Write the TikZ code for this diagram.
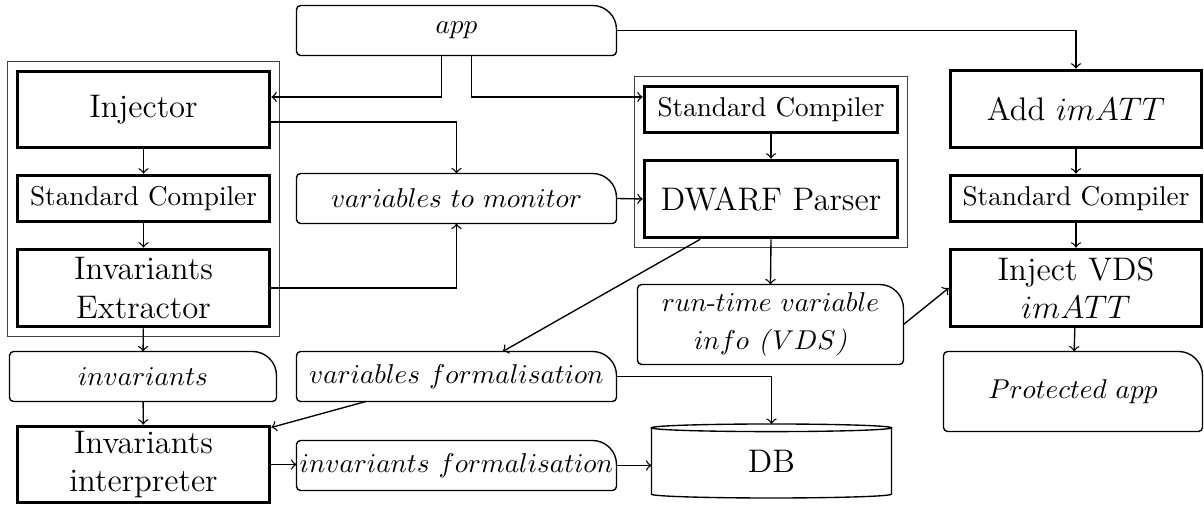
\documentclass[tikz,border=0pt]{standalone}
\usepackage{amsmath}
\usetikzlibrary{fit}
\def\pxu{0.3676pt}
\tikzset{
  bigbox/.style={draw, line width=1.3pt, align=center, inner sep=0pt, font=\large},
  smallbox/.style={draw, line width=1.3pt, align=center, inner sep=0pt},
  datab/.style={align=center, inner sep=0pt, outer sep=0pt},
  grp/.style={draw=black!75, line width=0.5pt, inner sep=3.1pt},
  conn/.style={->, line width=0.5pt},
  dshape/.style={line width=0.5pt}
}
\newcommand\datashape[1]{\draw[dshape] ([xshift=-8.8pt]#1.north east) arc[start angle=90,end angle=0,radius=8.8pt] -- ([yshift=1.5pt]#1.south east) arc[start angle=0,end angle=-90,radius=1.5pt] -- ([xshift=1.5pt]#1.south west) arc[start angle=270,end angle=180,radius=1.5pt] -- ([yshift=-1.5pt]#1.north west) arc[start angle=180,end angle=90,radius=1.5pt] -- cycle;}
\begin{document}
\begin{tikzpicture}[x=0.3676pt, y=-0.3676pt]
\useasboundingbox (0,0) rectangle (1204,505);
% left column
\node[bigbox, minimum width=252*\pxu, minimum height=76*\pxu] (inj) at (143.5,109.5) {Injector};
\node[smallbox, minimum width=252*\pxu, minimum height=46*\pxu] (sc1) at (143.5,198.5) {Standard Compiler};
\node[bigbox, minimum width=252*\pxu, minimum height=77*\pxu] (ie) at (143.5,288) {Invariants\\Extractor};
\node[grp, fit=(inj)(sc1)(ie)] (grpL) {};
\node[datab, minimum width=267*\pxu, minimum height=50*\pxu] (inv) at (143,376.5) {$invariants$};
\node[bigbox, minimum width=252*\pxu, minimum height=76*\pxu] (ii) at (143.5,464.5) {Invariants\\interpreter};
% second column (data)
\node[datab, minimum width=320*\pxu, minimum height=50*\pxu] (app) at (456.5,30.5) {$app$};
\node[datab, minimum width=320*\pxu, minimum height=50*\pxu] (vtm) at (456.5,198.5) {$variables\ to\ monitor$};
\node[datab, minimum width=320*\pxu, minimum height=50*\pxu] (vf) at (456.5,376.5) {$variables\ formalisation$};
\node[datab, minimum width=320*\pxu, minimum height=50*\pxu] (if) at (456.5,465.5) {$invariants\ formalisation$};
% middle column
\node[smallbox, minimum width=253*\pxu, minimum height=46*\pxu] (sc2) at (771,109.5) {Standard Compiler};
\node[bigbox, minimum width=253*\pxu, minimum height=77*\pxu] (dw) at (771,199) {DWARF Parser};
\node[grp, fit=(sc2)(dw)] (grpM) {};
\node[datab, minimum width=266*\pxu, minimum height=80*\pxu] (rt) at (770.5,324.5) {$run\mbox{-}time\ variable$\\[2pt]$info$ \textit{(}$VDS$\textit{)}};
\node[datab, font=\large, minimum width=240*\pxu, minimum height=74*\pxu] (db) at (771.5,461) {DB};
% right column
\node[bigbox, minimum width=251*\pxu, minimum height=77*\pxu] (add) at (1076,109) {Add $imATT$};
\node[smallbox, minimum width=251*\pxu, minimum height=46*\pxu] (sc3) at (1076,198.5) {Standard Compiler};
\node[bigbox, minimum width=251*\pxu, minimum height=77*\pxu] (vds) at (1076,288) {Inject VDS\\$imATT$};
\node[datab, minimum width=259*\pxu, minimum height=80*\pxu] (prot) at (1073,391.5) {$Protected\ app$};
% data shapes
\datashape{inv}
\datashape{app}
\datashape{vtm}
\datashape{vf}
\datashape{if}
\datashape{rt}
\datashape{prot}
% cylinder
\draw[dshape] ([yshift=-1.4pt]db.north) ellipse[x radius=44.1pt, y radius=1.4pt];
\draw[dshape] ([yshift=-1.4pt]db.north west) -- ([yshift=1.4pt]db.south west) arc[start angle=180,end angle=360,x radius=44.1pt,y radius=1.4pt] -- ([yshift=-1.4pt]db.north east);
% connectors
\draw[conn] (inj) -- (sc1);
\draw[conn] (sc1) -- (ie);
\draw[conn] (ie) -- (inv);
\draw[conn] (inv) -- (ii);
\draw[conn] ([xshift=-5.4pt]app.south) |- ([yshift=4.6pt]inj.east);
\draw[conn] ([xshift=5.6pt]app.south) |- ([yshift=4.6pt]sc2.west);
\draw[conn] ([yshift=-4.6pt]inj.east) -| (vtm.north);
\draw[conn] (ie.east) -| (vtm.south);
\draw[conn] (vtm.east) -- (dw.west);
\draw[conn] (sc2) -- (dw);
\draw[conn] (dw.south) -- (rt.north);
\draw[conn] ([xshift=-26pt]dw.south) -- ([xshift=17pt]vf.north);
\draw[conn] ([xshift=-33.3pt]vf.south) -- ([yshift=-1pt]ii.north east);
\draw[conn] (vf.east) -| (db.north);
\draw[conn] (if.east) -- (if.east -| db.west);
\draw[conn] (ii.east) -- (ii.east -| if.west);
\draw[conn] (rt.east) -- (vds.west);
\draw[conn] (app.east) -| (add.north);
\draw[conn] (add) -- (sc3);
\draw[conn] (sc3) -- (vds);
\draw[conn] (vds) -- (prot);
\end{tikzpicture}
\end{document}
